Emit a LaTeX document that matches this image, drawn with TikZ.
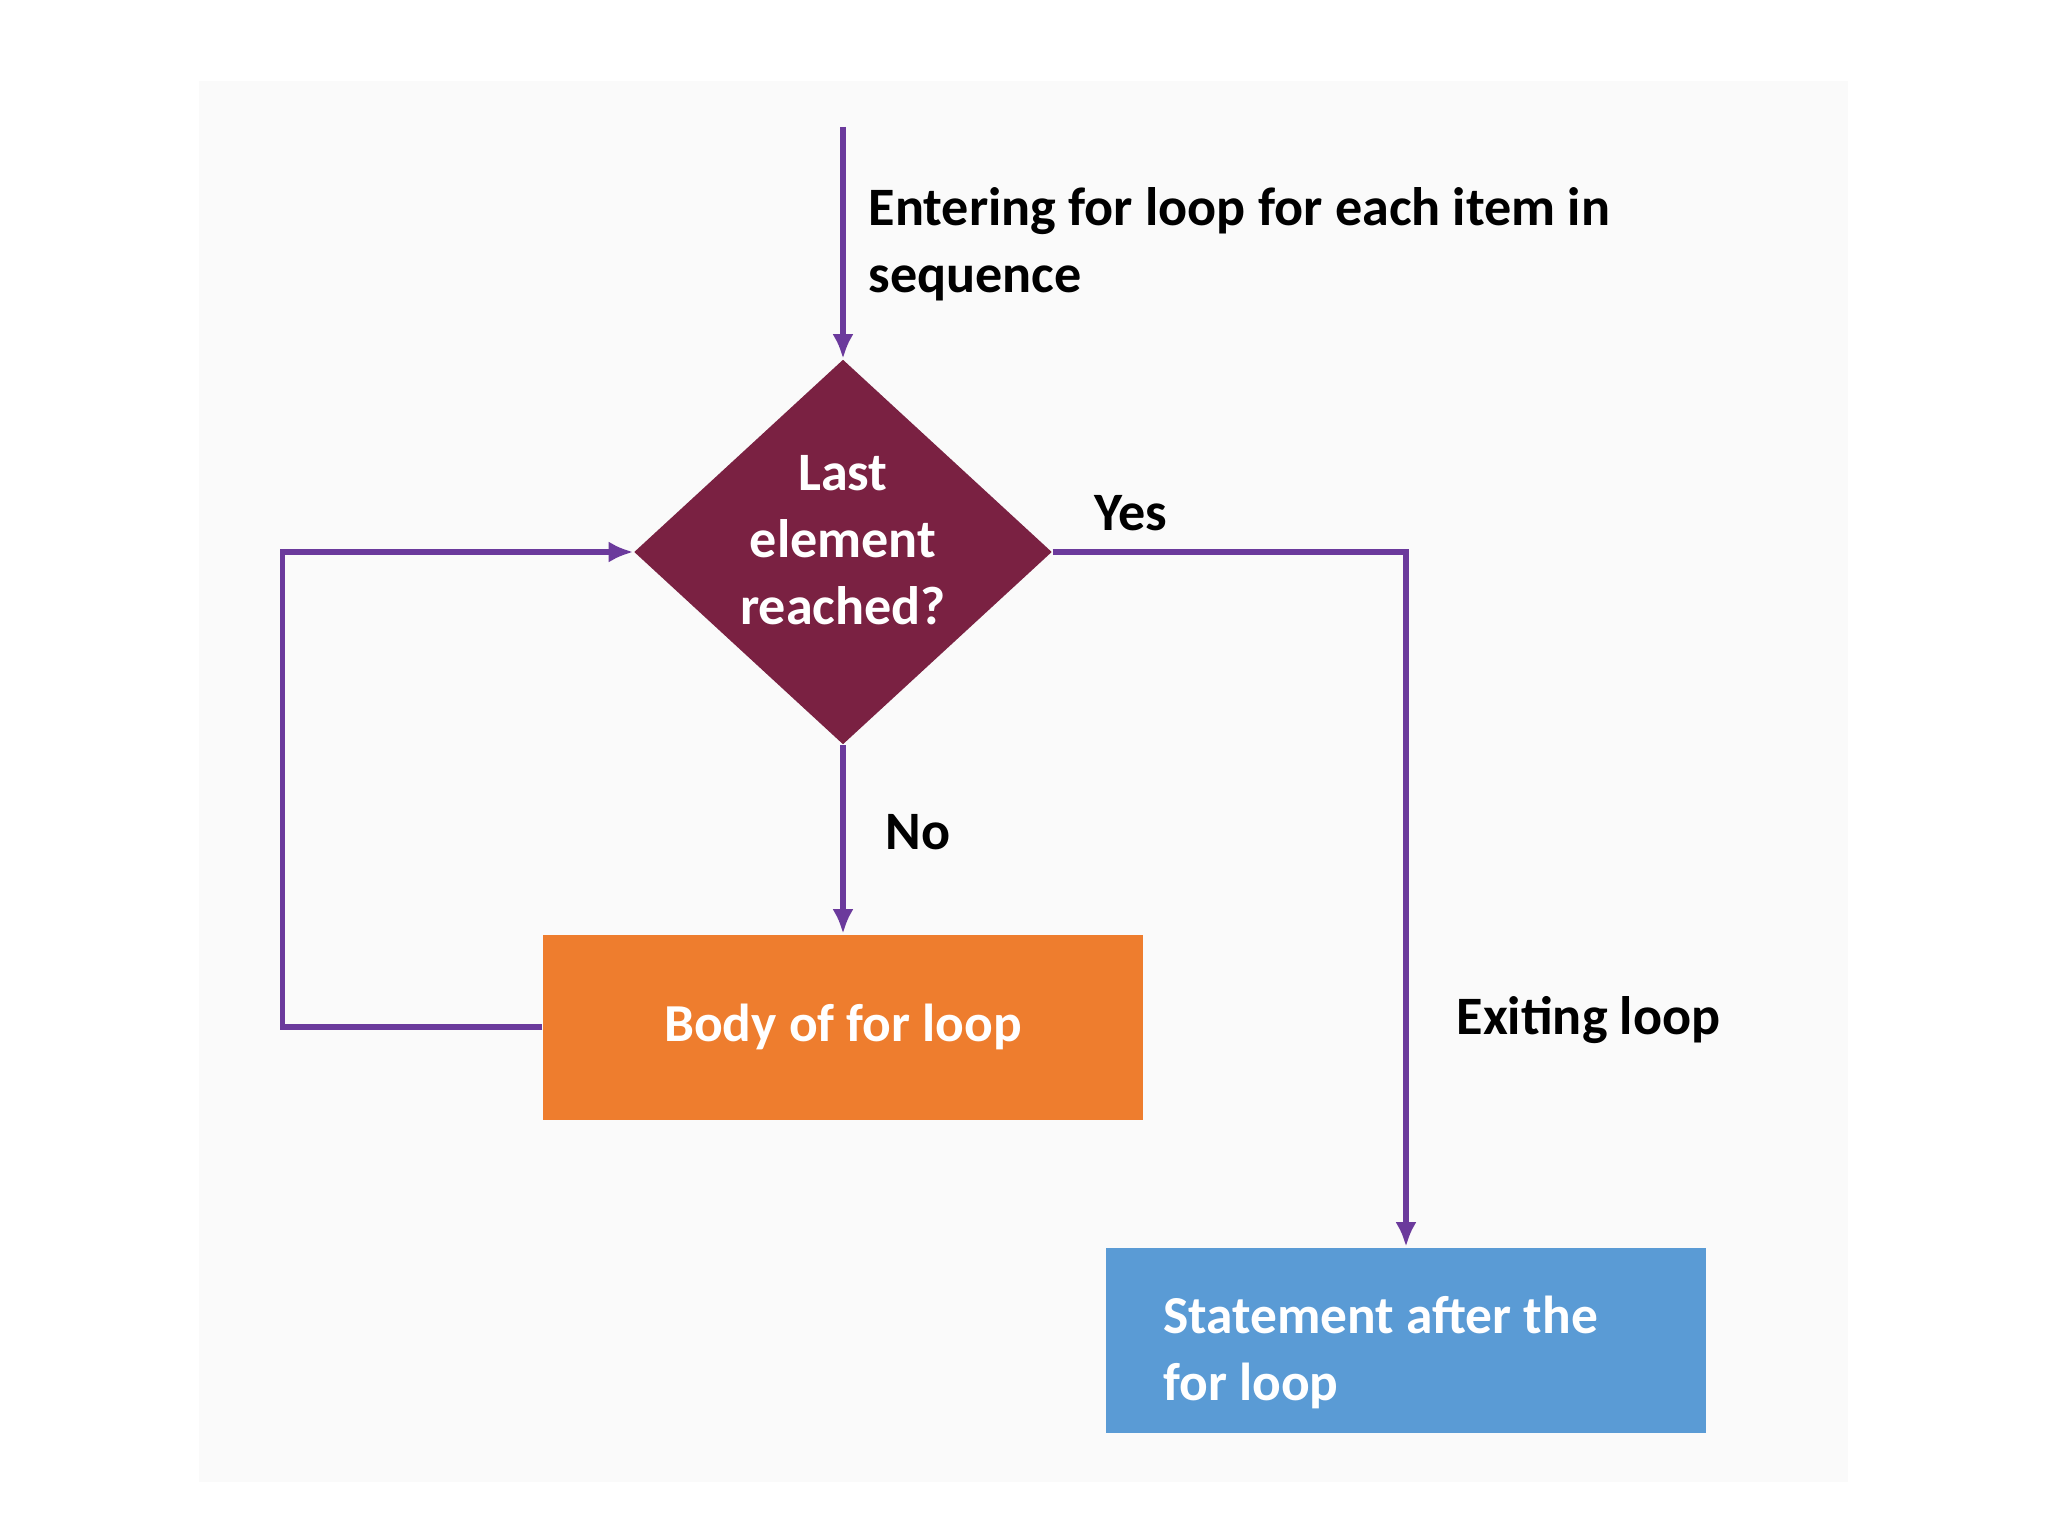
\documentclass[tikz,border=0pt]{standalone}
\usepackage{fontspec}
\setmainfont{Carlito}
\usetikzlibrary{shapes.geometric,arrows.meta,positioning}
\definecolor{flowline}{HTML}{6B3A9C}
\definecolor{decfill}{HTML}{7A2142}
\definecolor{bodyfill}{HTML}{EE7D2E}
\definecolor{afterfill}{HTML}{5A9BD5}
\begin{document}
\begin{tikzpicture}
		[decision/.style={diamond,fill=decfill,text=white,font=\fontsize{15.4}{19}\selectfont\bfseries,align=center,minimum width=4.18cm,minimum height=3.85cm,inner sep=-8pt,text depth=0.24cm},
		block/.style={rectangle,text=white,font=\fontsize{15.2}{19}\selectfont\bfseries,minimum width=6.0cm,minimum height=1.85cm},
		label/.style={font=\fontsize{15.4}{19}\selectfont\bfseries,align=left,inner sep=0pt},
		flow/.style={draw=flowline,line width=1.5pt,-{Latex[length=7pt,width=6pt]}}]
		\useasboundingbox (0,0) rectangle (20.48,-15.36);
		\fill[black!2] (1.99,-0.81) rectangle (18.48,-14.82);
		\coordinate (start) at (8.43,-1.27);
		\node[decision,name=dec] at (8.43,-5.52) {Last\\element\\reached?};
		\node[block,name=body,fill=bodyfill] at (8.43,-10.27) {Body of for loop};
		\node[block,name=after,fill=afterfill,align=flush left,text width=4.85cm,text depth=0.5cm] at (14.06,-13.40) {Statement after the\\for loop};
		\node[label,anchor=north west,name=enter] at (8.68,-1.87) {Entering for loop for each item in\\sequence};
		\node[label,name=yes] at (11.31,-5.13) {Yes};
		\node[label,name=no] at (9.18,-8.32) {No};
		\node[label,anchor=west,name=exit] at (14.56,-10.20) {Exiting loop};
		\draw[flow] (start) -- (dec.north);
		\draw[flow] (dec.south) -- (body.north);
		\draw[flow] (body.west) -- ++(-2.6,0) |- (dec.west);
		\draw[flow] (dec.east) -| (after.north);
	\end{tikzpicture}
\end{document}
